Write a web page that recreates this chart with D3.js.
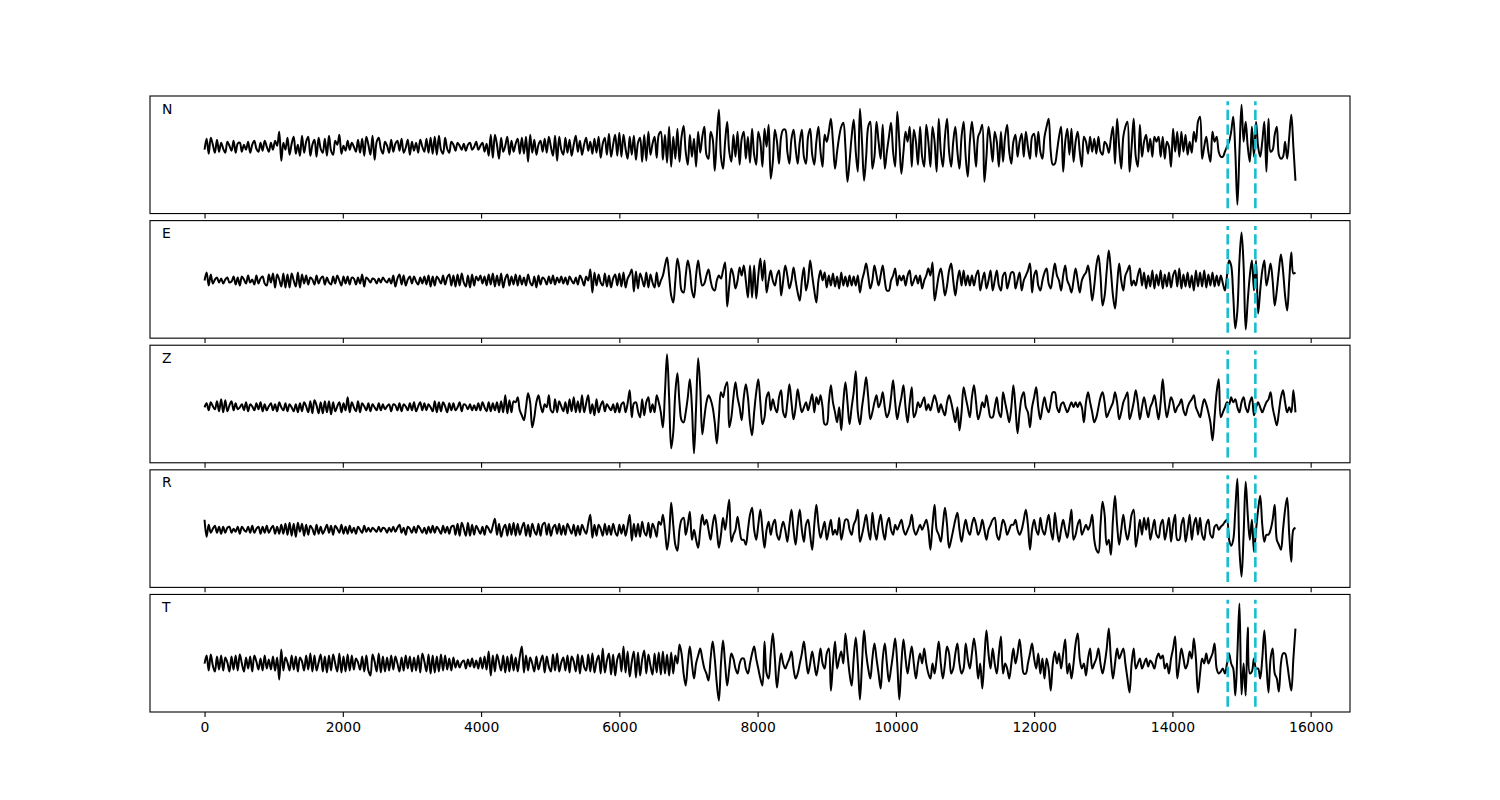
<!DOCTYPE html>
<html><head><meta charset="utf-8">
<script src="https://cdn.jsdelivr.net/npm/d3@7"></script>
<style>body{margin:0;background:#fff}svg{display:block}</style>
</head><body><svg id="chart" width="1500" height="800"></svg>
<script>
// ---------------- DATA ----------------
const SAMPLE_STEP = 30; // samples between listed values
const components = ["N", "E", "Z", "R", "T"];
const pickTimes = [14800, 15200];
const xTickValues = [0, 2000, 4000, 6000, 8000, 10000, 12000, 14000, 16000];
const yLow  = [-61.5, -52.3, -50.1, -52.3, -43.1];
const yHigh = [45.4, 54.6, 56.8, 54.6, 63.8];

const traceN = [
-3,8,-7,9,2,-6,7,-5,4,-2, -6,5,1,-4,6,-6,3,4,-5,2, -3,5,-6,2,6,-2,-5,4,-4,6, 0,-5,4,-3,6,1,15,-14,4,-3,
9,-8,3,10,-7,2,-9,11,-6,5, 10,-9,2,7,-10,9,-2,-6,8,-9, 11,-4,-8,6,2,12,-7,1,-4,6, -3,4,0,-5,7,-6,8,-9,10,2,
-8,11,-13,5,9,-2,-7,5,1,-6, 7,-5,3,6,-4,8,-6,-1,7,-8, 5,-4,4,-6,7,0,-5,8,-6,9, -7,10,-8,11,-3,-7,9,-2,-6,5,
2,-4,4,1,-3,3,-4,2,4,-3, 0,5,-3,1,4,-5,3,-9,12,-11, 12,2,-12,9,-5,1,10,-8,6,-5, 3,8,-7,9,-7,10,-15,12,-6,7,
-8,2,6,-5,8,-6,10,0,-9,11, -14,10,-3,-8,9,-6,7,-9,2,11, -5,6,-8,2,9,-4,5,-7,8,-6, 10,-11,3,9,-8,13,-10,2,12,-9,
14,-10,12,-2,-12,10,-8,11,-13,4, 9,-15,12,-14,15,-8,3,10,-11,12, 15,-13,12,-16,20,-20,10,-12,18,-15, 10,21,-5,-18,12,-10,8,-20,15,-6,
10,20,-8,-12,15,8,-24,10,37,-10, -22,5,25,-5,-15,12,-10,15,-18,8, 15,-12,10,-16,18,-8,-18,15,5,-20, 18,0,22,-32,-15,17,5,-17,10,17,
17,-5,-17,8,17,-2,-17,5,17,-10, -17,10,18,-8,-18,5,20,-5,-20,12, 5,15,28,5,-22,-5,10,20,24,0, -35,-15,10,27,-5,-25,38,5,-34,-10,
20,25,-22,-10,25,5,-12,22,-22,-5, 10,24,-5,-20,35,5,-27,-5,15,5, 20,-20,17,5,-18,20,-10,-20,22,5, -20,20,5,-25,28,-5,-20,10,28,-5,
-20,5,20,-5,-22,10,25,-10,-30,5, 25,5,-20,10,15,22,-35,-10,20,5, -15,15,5,-20,15,-15,10,22,-5,-17, 5,12,-10,5,13,-10,15,0,-12,10,
13,-10,15,-5,-12,10,20,28,-5,-18, -17,-5,10,20,-25,5,18,-8,18,-15, 5,15,-5,-20,10,5,-7,10,-5,8, -7,10,-5,-8,5,2,-6,8,20,-17,
28,0,-22,10,20,25,-25,0,28,-10, -20,22,-10,5,12,-5,8,-10,10,5, 10,-10,10,-12,5,0,-20,18,-5,15, -10,15,-5,12,-8,5,-6,15,5,25,
30,-12,0,10,-5,-15,15,5,10,-5, -10,-10,-5,0,5,15,30,-5,-58,-5, 42,5,25,0,-15,20,-10,25,0,-10, 5,25,-25,28,-5,-3,12,20,-8,-12,
-10,5,-12,10,32,0,-34
];

const traceE = [
0,8,-5,6,-3,1,3,-2,2,-3, 1,3,-2,-1,4,-4,3,-5,4,1, -3,5,-2,1,-4,5,-3,2,4,-3, -5,6,-2,7,-7,6,1,-6,7,-7,
6,-7,7,0,-6,8,-7,6,-3,5, -4,3,1,-4,5,-3,2,4,-4,3, -2,-4,4,-3,5,0,-5,4,-3,4, -4,3,2,-4,3,-3,6,-6,3,1,
-2,2,1,-3,2,-2,3,0,-2,2, -3,5,-6,2,6,-4,5,-5,1,4, -3,4,-1,-4,3,-3,4,-4,5,-6, 4,-5,4,1,-3,5,-4,3,6,-5,
5,-6,6,-5,7,-2,-6,5,-7,6, -5,4,0,5,-3,4,-5,6,-4,7, -6,5,-5,7,-7,2,6,-5,4,-4, 6,-5,5,-4,3,-5,6,-2,-5,4,
-7,5,-4,3,1,-4,4,-3,5,-4, 3,-2,4,-3,3,-4,4,0,-3,3, -4,5,1,-5,4,0,11,-12,8,-5, 6,-2,-5,7,-6,5,-7,2,6,-5,
7,-6,8,-7,2,6,11,-11,9,-8, 7,1,-6,8,-7,6,-2,-7,8,-6, 0,5,15,23,5,-15,-22,0,22,10, -10,-12,5,20,10,-10,-17,5,20,5,
-5,-3,5,11,0,-8,-10,0,5,2, 10,18,-26,-5,12,5,-8,0,13,5, 15,0,-17,15,-17,15,-18,5,22,0, 20,-12,0,10,0,-5,5,10,-15,0,
15,5,-8,0,13,0,-12,-20,0,13, -10,0,20,5,-10,-22,0,10,0,8, -7,5,-5,7,-6,4,-8,8,-5,4, -6,5,-5,4,-5,5,-12,0,8,17,
5,-8,0,15,5,-5,5,15,0,-10, -10,0,5,12,-5,5,0,5,-5,5, 10,-5,0,5,-3,5,-8,0,5,12, 5,18,-20,-8,5,12,0,-15,-5,10,
17,0,-15,0,10,-5,10,-5,5,-5, 5,-5,5,10,-10,0,8,-8,0,10, -10,0,10,-5,-10,5,8,-8,0,8, 8,-8,0,8,-10,0,5,10,17,-12,
5,10,-5,-10,0,8,12,-3,-8,5, 17,5,0,-10,5,15,0,-5,-12,0, 12,0,-12,0,5,8,15,0,-20,-5, 15,25,5,-25,-15,10,30,10,-15,-28,
-5,17,0,-10,5,10,15,-5,0,-5, 5,12,-5,8,-8,5,-6,10,-8,6, -5,10,-8,6,-6,8,-7,5,10,-6, 12,-8,6,-6,8,-7,5,-10,10,-6,
8,-6,10,-7,6,-5,8,-6,5,-5, 5,-3,-10,5,20,15,-15,-48,-30,20, 48,15,-49,-20,5,20,-10,20,-33,-10, 10,20,-5,5,17,0,-25,-10,10,26,
10,-15,-30,0,28,7,8
];

const traceZ = [
0,4,-3,5,1,-2,6,-4,8,-5, 7,-4,2,6,-3,4,-2,0,3,-3, 5,-4,3,1,-3,4,-2,5,-4,3, -3,1,4,-3,3,-4,5,0,-3,4,
-4,3,0,-4,3,-5,4,-4,5,1, -5,6,-6,7,2,-6,5,-6,6,-5, 6,-7,5,-4,1,5,-5,4,-3,10, -5,5,0,-4,6,-5,4,1,-3,4,
-4,3,0,-3,4,-3,3,-2,1,3, -4,3,2,-3,4,-4,3,1,-3,4, -3,5,-4,1,5,-3,4,-3,3,0, -4,6,-5,5,-4,5,1,-5,4,-3,
4,-3,0,5,-4,3,2,-2,3,-3, 2,-3,4,-3,5,0,-4,5,-4,4, -3,5,-5,6,-5,12,-6,7,-5,6, 5,10,-3,-8,-13,0,14,5,-20,-10,
5,12,2,-5,3,0,12,-3,-5,8, -5,6,1,-4,5,-6,8,-4,10,-5, 6,-5,12,-5,4,12,-6,3,-8,8, -5,2,6,-4,3,0,-3,3,-5,4,
-5,3,5,-5,4,17,-10,4,5,-4, -10,8,-8,5,10,-5,3,-5,12,5, -5,-20,15,53,10,-41,-25,15,34,5, -13,-15,-5,10,28,0,-46,0,49,20,
-27,-10,5,12,8,0,-15,-36,-10,15, 10,20,25,-20,-10,10,25,10,0,-13, 10,23,10,-15,-28,-5,15,28,5,-17, -10,10,15,-3,8,0,-5,10,17,-5,
-10,5,23,5,-12,0,18,5,-5,0, 5,-3,5,13,-5,10,3,12,0,-17, -17,5,22,5,-5,-15,0,-23,5,25, 5,-17,0,15,36,-5,-17,0,15,30,
10,-12,-5,5,12,0,5,15,0,-10, -5,10,27,5,-12,0,10,22,0,-15, 5,20,-10,-5,5,0,5,10,-3,3, -3,5,12,5,-5,3,-3,-8,5,12,
5,-5,-15,0,-23,-5,20,10,0,-10, 10,22,5,-12,-5,5,0,12,0,-10, -10,0,10,-5,-10,15,5,-5,-15,0, 22,0,-26,-5,10,15,0,-5,-20,0,
10,20,0,-12,0,10,0,-5,5,15, 15,0,-5,3,5,0,-5,0,5,0, 5,0,5,0,-15,5,15,5,-5,-15, -10,0,10,15,5,-10,-5,0,5,15,
5,-12,-5,5,10,15,-12,-5,5,17, 5,-12,0,10,0,-10,0,5,12,0, -12,5,28,5,-10,0,10,5,-5,0, 3,8,-3,-8,0,5,8,12,0,-5,
-10,0,8,3,-5,-15,-33,-10,15,28, -10,-5,0,5,3,10,5,8,0,-5, 5,10,0,-5,5,10,-8,0,5,0, -5,0,5,8,15,0,-10,-18,-5,10,
17,5,-5,0,-5,17,-5
];

const traceR = [
10,-7,5,-3,1,4,-3,3,-4,3, -3,2,3,-3,1,-2,3,-4,3,0, -2,3,-3,4,-3,1,3,-4,3,-3, 4,-3,1,4,-4,3,-4,5,-4,6,
-5,7,-6,6,-7,7,-2,6,-6,5, -5,4,1,-5,5,-4,3,-4,0,5, -3,4,-5,4,1,-3,5,-4,3,-4, 4,-3,2,-4,3,0,-3,4,-2,2,
-2,2,0,-2,3,-2,2,1,-3,2, -2,3,-2,2,5,-3,2,-5,3,1, -3,3,-3,4,1,-3,2,-4,3,-3, 4,-3,3,0,-4,4,-3,3,-4,3,
4,-5,6,-6,7,1,-6,7,-6,5, -5,4,0,-4,3,-5,4,1,-3,4, 11,-5,6,-7,1,5,-6,6,-5,7, -6,6,-5,2,7,-6,5,-7,6,-1,
-5,6,-6,5,7,-5,6,-6,2,5, -4,6,-5,4,-5,6,1,-4,5,-6, 4,-5,5,0,-4,6,15,-8,5,-6, 5,1,-6,6,-5,4,-5,6,-2,-6,
5,-4,5,-6,4,15,-11,6,-7,6, -7,8,-2,-6,7,-8,6,1,-7,8, 5,15,0,-20,-5,27,5,-15,-21,0, 10,12,-5,5,18,-10,0,-10,-18,0,
15,5,10,0,-10,5,15,0,-18,-5, 12,0,15,30,-12,-5,0,13,0,-10, -10,-15,0,15,22,0,-10,5,20,0, -18,0,8,-5,5,10,-5,-10,0,8,
0,-12,5,20,0,-15,5,20,0,-12, 5,10,-5,-20,5,25,5,-8,0,8, -10,0,10,-5,0,-5,12,-10,0,10, 10,0,-5,5,10,20,-12,-5,5,15,
0,-10,17,0,-10,5,15,0,-10,5, 12,0,-5,5,0,5,10,0,-5,0, 5,15,0,-5,0,5,0,5,10,0, -20,5,25,0,-5,-12,5,22,5,-18,
-10,0,10,17,0,-12,0,10,0,-5, 5,12,5,-5,0,10,0,-10,0,5, 10,12,-5,-10,0,10,5,-5,0,5, 5,10,0,-5,0,10,20,5,-20,0,
10,0,-5,12,0,-5,5,15,0,-10, 17,0,-12,0,10,0,-8,5,20,-10, -5,5,10,-5,0,5,0,5,15,-10, -20,-23,5,28,15,-15,-10,-25,10,34,
5,-15,0,15,0,-10,0,15,20,-17, -5,10,-5,12,0,12,-10,0,10,-5, -8,5,10,-10,0,12,-12,5,15,-10, -10,5,12,-12,0,15,-10,5,12,-5,
12,-5,-10,5,10,-5,-8,3,5,0, 3,5,8,10,-10,-16,-10,20,51,-20, -47,-5,48,15,-10,10,-22,0,20,34, 5,-12,-5,-5,0,10,25,-10,-15,-20,
0,20,32,-5,-32,0,2
];

const traceT = [
0,8,-7,9,-2,-8,7,-6,8,-7, 6,1,-8,7,-6,8,-7,9,0,-8, 6,-5,7,-8,8,2,-6,5,-7,8, -5,4,-6,7,-7,6,-16,14,-7,6,
1,-7,8,-6,7,-8,6,2,-7,8, -6,10,-8,8,-7,1,9,-8,7,-9, 8,-7,9,0,-8,10,-9,7,-8,9, -7,8,-6,5,1,-6,7,-8,8,-7,
-12,9,2,-8,10,-9,7,-8,6,-7, 8,-6,7,0,-8,6,-7,8,-5,7, -8,6,-7,8,-9,10,2,-8,9,-10, 8,-9,7,-8,9,-7,8,-6,5,-7,
6,-4,3,-4,1,3,-5,4,-3,5, -4,3,-5,6,-5,7,-6,12,-12,8, -8,9,1,-7,8,-9,7,-8,9,-7, 6,-8,7,17,-9,8,-7,6,0,-8,
7,-6,2,8,-9,7,-3,-8,9,-7, 10,-8,1,6,-7,8,-9,7,2,-8, 9,-10,8,-3,-7,9,-8,10,-9,2, 8,-10,15,-9,3,10,-11,9,-12,4,
10,-8,17,-9,12,-13,2,12,-14,11, -12,4,13,-10,9,-2,-11,10,-9,11, -11,12,-10,9,-12,11,-10,8,0,19, 10,-10,-22,0,17,0,-15,0,8,15,
5,-5,-10,-17,5,22,5,-20,-37,0, 23,0,-22,-5,10,5,-5,-10,0,5, 5,-5,-10,0,10,17,5,-5,-15,-22, 22,-10,-15,10,30,5,-24,-5,10,0,
-5,0,5,12,-5,-15,-10,0,10,22, 5,-10,0,12,0,-12,0,15,0,-5, 10,15,-27,0,22,-5,5,12,0,30, 10,-10,-22,5,26,0,-36,0,33,10,
-5,-15,5,20,5,-10,-25,5,20,0, -18,-5,10,25,0,-36,0,24,5,-10, 5,17,0,-15,0,10,0,15,0,-10, -15,0,-10,5,22,0,-15,0,17,10,
-10,-5,10,20,0,-10,-5,20,5,-5, 10,25,10,-15,0,-25,5,33,10,-5, 15,0,-10,10,27,-10,0,-5,-15,0, 15,0,10,24,5,-10,-10,0,10,20,
5,-5,10,-10,5,-15,5,-5,-27,0, 12,0,10,-5,10,24,-10,0,-15,0, 20,30,5,-5,0,-12,5,15,-5,0, 5,15,0,-10,0,15,35,5,-15,0,
15,5,10,15,0,-15,-29,0,15,-5, 0,5,-5,0,5,-3,3,0,-5,5, 10,5,8,-5,0,-10,5,15,27,-15, 0,15,5,-5,0,12,5,25,5,-29,
-10,5,0,10,0,5,10,20,-5,-10, -8,-5,-10,0,10,0,-5,-32,10,60, -31,0,-32,36,-10,-8,5,-5,-5,-15, 5,33,0,-29,5,15,-10,-15,-28,0,
10,10,0,-15,-27,5,35
];

// ---------------- CHART ----------------
(function () {
  const traces = [traceN, traceE, traceZ, traceR, traceT];
  const svg = d3.select("#chart");
  const mLeft = 150, mRight = 1350, mTop = 96, mBottom = 712, hspace = 0.06;
  const nP = traces.length;
  const ph = (mBottom - mTop) / (nP + (nP - 1) * hspace);
  const gap = ph * hspace;

  const tMax = d3.max(traces, t => (t.length - 1) * SAMPLE_STEP);
  const xPad = 0.05 * tMax;
  const x = d3.scaleLinear().domain([-xPad, tMax + xPad]).range([mLeft, mRight]);

  const FONT = "'DejaVu Sans', 'Liberation Sans', sans-serif";

  traces.forEach((tr, i) => {
    const y0 = mTop + i * (ph + gap);
    const lo = yLow[i], hi = yHigh[i];
    const yPad = 0.05 * (hi - lo);
    const y = d3.scaleLinear().domain([lo - yPad, hi + yPad]).range([y0 + ph, y0]);

    const g = svg.append("g");
    const clipId = "clip" + i;
    svg.append("clipPath").attr("id", clipId)
      .append("rect").attr("x", mLeft).attr("y", y0).attr("width", mRight - mLeft).attr("height", ph);

    const plot = g.append("g").attr("clip-path", `url(#${clipId})`);
    const line = d3.line()
      .x((d, k) => x(k * SAMPLE_STEP))
      .y(d => y(d))
      .curve(d3.curveCatmullRom.alpha(0.5));
    plot.append("path").datum(tr)
      .attr("d", line)
      .attr("fill", "none")
      .attr("stroke", "#000")
      .attr("stroke-width", 2)
      .attr("stroke-linejoin", "round");

    plot.selectAll("line.pick").data(pickTimes).join("line")
      .attr("class", "pick")
      .attr("x1", d => x(d)).attr("x2", d => x(d))
      .attr("y1", y(lo)).attr("y2", y(hi))
      .attr("stroke", "#17becf")
      .attr("stroke-width", 2.6)
      .attr("stroke-dasharray", "10.3,4.4");

    g.append("rect").attr("x", mLeft).attr("y", y0).attr("width", mRight - mLeft).attr("height", ph)
      .attr("fill", "none").attr("stroke", "#000").attr("stroke-width", 1.1);

    const axis = d3.axisBottom(x).tickValues(xTickValues).tickSize(4.9).tickPadding(4.9)
      .tickFormat(i < nP - 1 ? "" : d3.format("d"));
    const ax = g.append("g").attr("transform", `translate(0,${y0 + ph})`).call(axis);
    ax.select(".domain").remove();
    ax.selectAll(".tick line").attr("stroke", "#000").attr("stroke-width", 1.1);
    ax.selectAll(".tick text").attr("fill", "#000").style("font-family", FONT).style("font-size", "13.9px");

    g.append("text")
      .attr("x", mLeft + 0.01 * (mRight - mLeft))
      .attr("y", y0 + 0.15 * ph)
      .style("font-family", FONT).style("font-size", "13.9px")
      .attr("fill", "#000")
      .text(components[i]);
  });
})();
</script>
</body></html>
